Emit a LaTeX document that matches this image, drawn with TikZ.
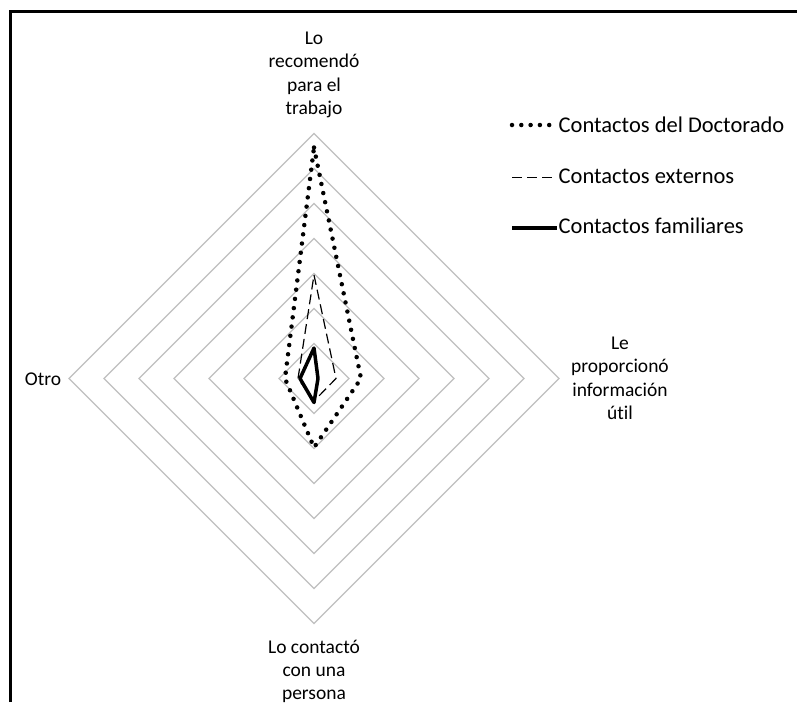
\documentclass[tikz,border=0pt]{standalone}
\usepackage{fontspec}
\setmainfont{Carlito}[Ligatures=NoCommon]
\definecolor{ringgray}{RGB}{192,192,192}
\begin{document}
\begin{tikzpicture}[x=1pt,y=-1pt,
  ring/.style={draw=ringgray,line width=1.3pt},
  lbl/.style={inner sep=0pt,align=center,anchor=north,font=\fontsize{19.5}{23.3}\selectfont},
  legtext/.style={inner sep=0pt,anchor=base west,font=\fontsize{22.5}{26}\selectfont},
  doct/.style={line width=4.5pt,line cap=round,dash pattern=on 0pt off 9.3pt},
  extern/.style={line width=1.2pt,dash pattern=on 10pt off 5pt},
  famil/.style={line width=3.5pt,line join=round},
]
\useasboundingbox (0,0) rectangle (797,702);
\fill[white] (0,0) rectangle (797,702);

% frame (top and left edges)
\draw[line width=2.6pt] (10.3,702) -- (10.3,11.3) -- (797,11.3);

% radar grid: seven concentric diamonds
\coordinate (c) at (314,378.5);
\foreach \r in {35,70,...,245}
  \draw[ring] (c) ++(0,-\r) -- ++(\r,\r) -- ++(-\r,\r) -- ++(-\r,-\r) -- cycle;

% category labels
\node[lbl] (ltop) at (314,31.7) {Lo\\recomendó\\para el\\trabajo};
\node[lbl] (lright) at (620,336.7) {Le\\proporcionó\\información\\útil};
\node[lbl] (lbottom) at (314,639.5) {Lo contactó\\con una\\persona};
\node[lbl,anchor=center] (lleft) at (43,379) {Otro};

% data series
\draw[doct] ([yshift=231pt]c) -- ([xshift=47pt]c) -- ([yshift=-69pt]c) -- ([xshift=-29pt]c) -- cycle;
\draw[extern] ([yshift=103.5pt]c) -- ([xshift=22pt]c) -- ([yshift=-22.5pt]c) -- ([xshift=-16pt]c) -- cycle;
\draw[famil] ([yshift=30.5pt]c) -- ([xshift=4pt]c) -- ([yshift=-24pt]c) -- ([xshift=-14pt]c) -- cycle;

% legend
\coordinate (k1a) at (512,125);   \coordinate (k1b) at (553,125);
\coordinate (k2a) at (512,177.5); \coordinate (k2b) at (556,177.5);
\coordinate (k3a) at (512,228);   \coordinate (k3b) at (557,228);
\draw[doct] (k1a) -- (k1b);
\draw[extern] (k2a) -- (k2b);
\draw[line width=3.3pt] (k3a) -- (k3b);
\node[legtext] (t1) at (558.5,132.3) {Contactos del Doctorado};
\node[legtext] (t2) at (558.5,183.5) {Contactos externos};
\node[legtext] (t3) at (558.5,233.3) {Contactos familiares};
\end{tikzpicture}
\end{document}
